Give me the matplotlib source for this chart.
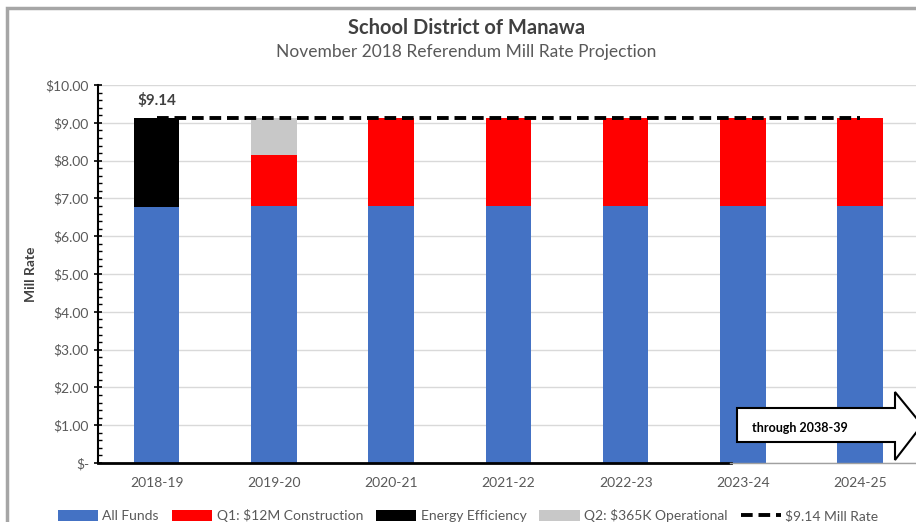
import numpy as np
import matplotlib
matplotlib.use("Agg")
import matplotlib.pyplot as plt
from matplotlib.patches import Polygon, Rectangle
from matplotlib.ticker import MultipleLocator, FuncFormatter

years = ["2018-19", "2019-20", "2020-21", "2021-22", "2022-23", "2023-24", "2024-25"]
all_funds = [6.77, 6.80, 6.80, 6.80, 6.80, 6.80, 6.80]
q1_construction = [0.0, 1.35, 2.34, 2.34, 2.34, 2.34, 2.34]
energy_eff = [2.37, 0.0, 0.0, 0.0, 0.0, 0.0, 0.0]
q2_operational = [0.0, 0.99, 0.0, 0.0, 0.0, 0.0, 0.0]
mill_rate = [9.14] * 7

plt.rcParams["font.family"] = ["Lato", "DejaVu Sans"]
grey_txt = "#595959"

fig = plt.figure(figsize=(9.16, 5.22), dpi=100)
ax = fig.add_axes([0.107, 0.113, 0.896, 0.724])

x = np.arange(len(years))
w = 0.39
ax.bar(x, all_funds, w, color="#4472C4", label="All Funds", zorder=2)
bot = np.array(all_funds)
ax.bar(x, q1_construction, w, bottom=bot, color="#FF0000", label="Q1: $12M Construction", zorder=2)
bot = bot + np.array(q1_construction)
ax.bar(x, energy_eff, w, bottom=bot, color="#000000", label="Energy Efficiency", zorder=2)
bot = bot + np.array(energy_eff)
ax.bar(x, q2_operational, w, bottom=bot, color="#C8C8C8", label="Q2: $365K Operational", zorder=2)
ax.plot(x, mill_rate, color="black", lw=2.8, ls=(0, (3, 1.5)), label="$9.14 Mill Rate", zorder=3)

ax.text(x[0], mill_rate[0] + 0.25, "$%.2f" % mill_rate[0], ha="center", va="bottom",
        fontsize=11, fontweight="bold", color="#404040")

ax.set_xlim(-0.5, len(years) - 0.5)
ax.set_ylim(0, 10)
ax.yaxis.set_major_locator(MultipleLocator(1))
ax.yaxis.set_minor_locator(MultipleLocator(0.2))
ax.yaxis.set_major_formatter(FuncFormatter(lambda v, p: "$-" if v == 0 else "$%.2f" % v))
ax.set_xticks(x)
ax.set_xticklabels(years)
ax.tick_params(axis="x", length=0, pad=10, labelsize=10, labelcolor=grey_txt)
ax.tick_params(axis="y", which="major", length=6, direction="inout", width=1.2, labelsize=10, labelcolor=grey_txt)
ax.tick_params(axis="y", which="minor", length=3, direction="in", width=1)
ax.grid(axis="y", color="#D9D9D9", lw=1, zorder=0)
ax.set_axisbelow(True)
for s in ["top", "right"]:
    ax.spines[s].set_visible(False)
ax.spines["left"].set_linewidth(1.5)
ax.spines["bottom"].set_linewidth(2)
ax.spines["bottom"].set_bounds(-0.5, 4.9)
ax.set_ylabel("Mill Rate", fontsize=10, fontweight="bold", color="#404040", labelpad=6)

fig.text(0.509, 0.946, "School District of Manawa", ha="center", va="center",
         fontsize=14.5, fontweight="bold", color="#404040")
fig.text(0.509, 0.900, "November 2018 Referendum Mill Rate Projection", ha="center", va="center",
         fontsize=12.5, color=grey_txt)

# outer chart frame
fig.patches.append(Rectangle((0.008, -0.05), 1.2, 1.035, transform=fig.transFigure,
                             fill=False, edgecolor="#A6A6A6", lw=2.5))

# arrow overlay
W, H = 916.0, 522.0
fig.lines.append(plt.Line2D([730 / W, 1.0], [1 - 463 / H] * 2, transform=fig.transFigure,
                            color="#A0A0A0", lw=1, zorder=5))
pts = [(737, 408), (895, 408), (895, 392), (922, 425), (895, 460), (895, 442), (737, 442)]
fig.patches.append(Polygon([(px / W, 1 - py / H) for px, py in pts], closed=True,
                           transform=fig.transFigure, facecolor="white", edgecolor="black",
                           lw=1.5, zorder=6))
fig.text(800 / W, 1 - 428 / H, "through 2038-39", ha="center", va="center",
         fontsize=9, fontweight="bold", color="black", zorder=7)

handles, labels = ax.get_legend_handles_labels()
order = [1, 2, 3, 4, 0]
leg = fig.legend([handles[i] for i in order], [labels[i] for i in order],
                 loc="center", bbox_to_anchor=(0.511, 0.012), ncol=5, frameon=False,
                 fontsize=10, handlelength=2.9, handleheight=0.8, columnspacing=0.95,
                 handletextpad=0.3)
for t in leg.get_texts():
    t.set_color(grey_txt)

fig.savefig("out.png", dpi=100)
